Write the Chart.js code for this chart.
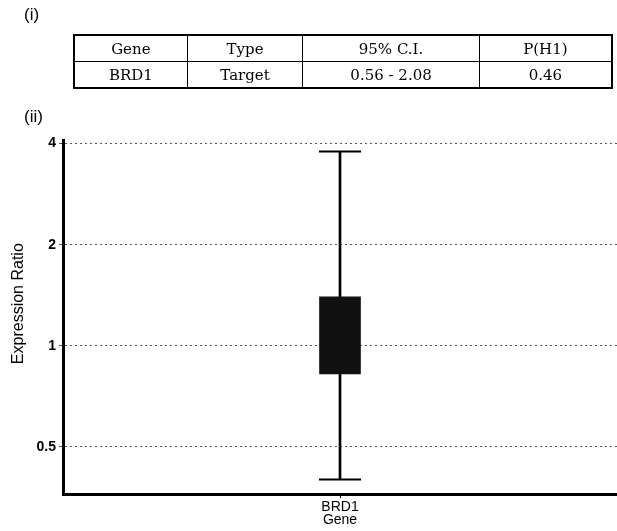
<!DOCTYPE html>
<html>
<head>
<meta charset="utf-8">
<script src="https://cdn.jsdelivr.net/npm/chart.js@4/dist/chart.umd.min.js"></script>
<style>
    html, body { margin: 0; padding: 0; background: #fff; }
    body { width: 617px; height: 531px; position: relative; overflow: hidden; font-family: "Liberation Sans", Arial, sans-serif; }
    #wrap { position: absolute; left: 0; top: 0; width: 617px; height: 531px; }
    .tag { position: absolute; left: 24px; font-size: 17px; color: #000; }
    #stats { position: absolute; left: 73px; top: 34px; width: 540px; border-collapse: collapse; border: 2px solid #000; font-family: "DejaVu Serif", serif; font-size: 15px; }
    #stats td { border: 1.5px solid #000; text-align: center; height: 25px; padding: 0; }
</style>
</head>
<body>
<div id="wrap"><canvas id="myChart" width="617" height="531"></canvas></div>
<div class="tag" style="top:5px">(i)</div>
<div class="tag" style="top:107px">(ii)</div>
<table id="stats"></table>
<script>
// table (i)
const tableHeader = ['Gene', 'Type', '95% C.I.', 'P(H1)']
const tableRow = ['BRD1', 'Target', '0.56 - 2.08', '0.46']
const colWidths = [113, 116, 178, 133]

// box plot (ii)
const genes = ['BRD1']
const whiskerLow = [0.40]
const boxLow = [0.824]
const boxHigh = [1.40]
const whiskerHigh = [3.79]
const yTicks = [0.5, 1, 2, 4]

const table = document.getElementById('stats')
for (const row of [tableHeader, tableRow]) {
    const tr = document.createElement('tr')
    row.forEach((txt, i) => {
        const td = document.createElement('td')
        td.textContent = txt
        td.style.width = colWidths[i] + 'px'
        tr.appendChild(td)
    })
    table.appendChild(tr)
}

const capPoints = []
genes.forEach((g, i) => {
    capPoints.push({ x: g, y: whiskerLow[i] })
    capPoints.push({ x: g, y: whiskerHigh[i] })
})

const ctx = document.getElementById('myChart').getContext('2d')
window.myChart = new Chart(ctx, {
    data: {
        labels: genes,
        datasets: [
            {
                type: 'bar',
                data: genes.map((g, i) => [whiskerLow[i], whiskerHigh[i]]),
                backgroundColor: '#000',
                barThickness: 2,
                grouped: false,
                order: 3
            },
            {
                type: 'bar',
                data: genes.map((g, i) => [boxLow[i], boxHigh[i]]),
                backgroundColor: '#111',
                barThickness: 41,
                grouped: false,
                order: 2
            },
            {
                type: 'line',
                data: capPoints,
                showLine: false,
                pointStyle: 'line',
                pointRadius: 21,
                pointBorderWidth: 2,
                pointBorderColor: '#000',
                order: 1
            }
        ]
    },
    options: {
        responsive: false,
        animation: false,
        layout: { autoPadding: false, padding: { top: 140, right: 0, bottom: 0, left: 0 } },
        plugins: { legend: { display: false }, tooltip: { enabled: false } },
        scales: {
            x: {
                type: 'category',
                afterFit(scale) { scale.height = 37 },
                grid: { display: true, offset: false, drawOnChartArea: false, drawTicks: true, tickLength: 4, color: '#000' },
                border: { display: true, color: '#000', width: 3 },
                ticks: { color: '#000', padding: 1, font: { family: 'Liberation Sans', size: 14 } },
                title: { display: true, text: 'Gene', color: '#000', padding: { top: 0, bottom: 2 }, font: { family: 'Liberation Sans', size: 14 } }
            },
            y: {
                type: 'logarithmic',
                min: 0.362,
                max: 4.1,
                afterFit(scale) { scale.width = 63 },
                afterBuildTicks(scale) { scale.ticks = yTicks.map(v => ({ value: v })) },
                grid: { color: '#555', lineWidth: 1, drawTicks: true, tickLength: 4 },
                border: { display: true, color: '#000', width: 3, dash: [2, 3] },
                ticks: {
                    color: '#000',
                    padding: 3,
                    font: { family: 'Liberation Sans', size: 14, weight: 'bold' },
                    callback: v => String(v)
                },
                title: { display: true, text: '      Expression Ratio', color: '#000', padding: { top: 9, bottom: 0 }, font: { family: 'Liberation Sans', size: 16 } }
            }
        }
    }
})
</script>
</body>
</html>
